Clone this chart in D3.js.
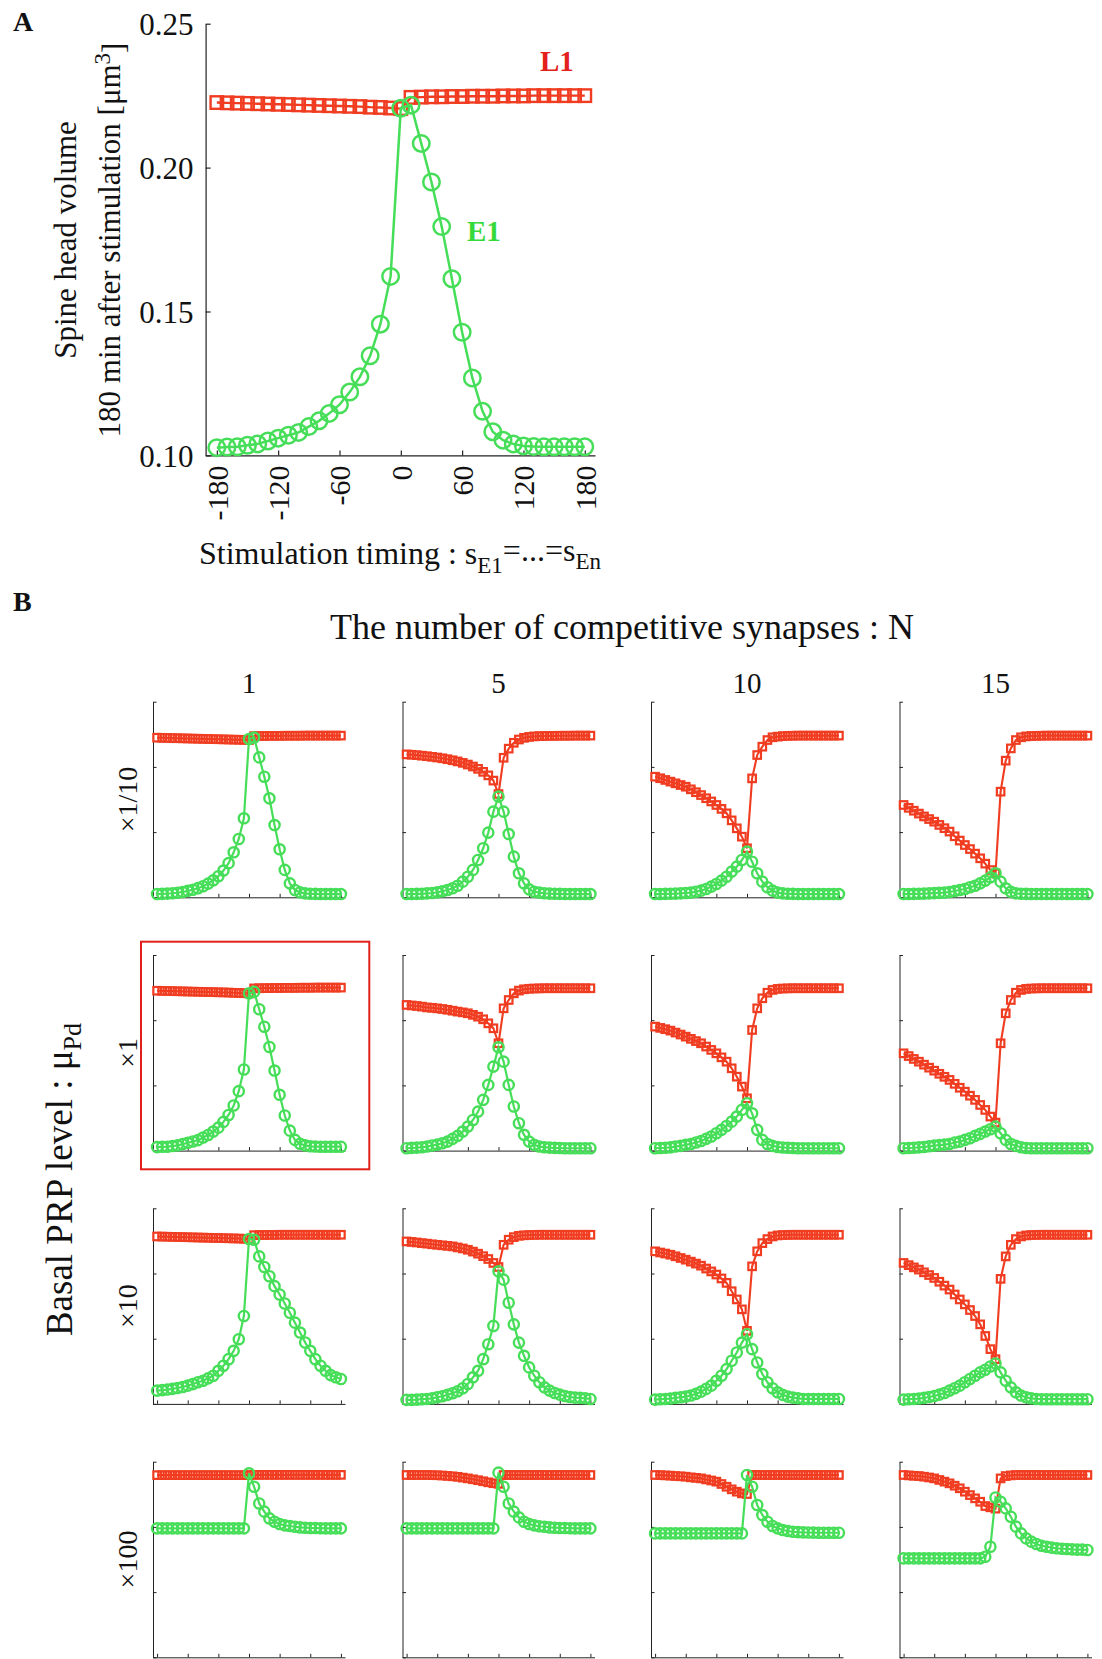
<!DOCTYPE html>
<html><head><meta charset="utf-8">
<script src="https://cdn.jsdelivr.net/npm/d3@7"></script>
<style>body{margin:0;background:#fff}svg{display:block}text{font-family:"Liberation Serif","Times New Roman",serif;fill:#111}</style>
</head><body>
<script>
const timing = [-180,-170,-160,-150,-140,-130,-120,-110,-100,-90,-80,-70,-60,-50,-40,-30,-20,-10,0,10,20,30,40,50,60,70,80,90,100,110,120,130,140,150,160,170,180];
const xTicks = [-180,-120,-60,0,60,120,180];
const yTicks = [0.10,0.15,0.20,0.25];
const nLabels = ["1","5","10","15"];
const prpLabels = ["×1/10","×1","×10","×100"];

// Panel A (N=1, x1)
const e1_A = [.1027,.1029,.1030,.1035,.1040,.1050,.1060,.1070,.1080,.1100,.1120,.1146,.1176,.1220,.1273,.1346,.1456,.1622,.2206,.2217,.2084,.1950,.1795,.1614,.1428,.1269,.1153,.1082,.1053,.1040,.1033,.1031,.1030,.1030,.1030,.1030,.1030];
const l1_A = [.2226,.2225,.2224,.2223,.2222,.2221,.2220,.2219,.2218,.2217,.2216,.2215,.2214,.2213,.2212,.2210,.2209,.2207,.2205,.2244,.2245,.2246,.2246,.2247,.2247,.2248,.2248,.2248,.2249,.2249,.2249,.2250,.2250,.2250,.2250,.2250,.2250];

// Row x1/10
const e1_r1c1 = [.1025,.1026,.1028,.1031,.1035,.1041,.1049,.1058,.1070,.1085,.1105,.1130,.1162,.1205,.1262,.1345,.1447,.1606,.2214,.2225,.2073,.1925,.1759,.1554,.1368,.1210,.1107,.1056,.1038,.1030,.1027,.1026,.1025,.1025,.1025,.1025,.1025];
const l1_r1c1 = [.2224,.2223,.2222,.2221,.2220,.2219,.2218,.2217,.2216,.2215,.2214,.2213,.2212,.2211,.2210,.2209,.2208,.2207,.2206,.2236,.2237,.2237,.2238,.2238,.2238,.2239,.2239,.2239,.2239,.2240,.2240,.2240,.2240,.2240,.2240,.2240,.2240];
const e1_r1c2 = [.1025,.1025,.1026,.1027,.1030,.1033,.1038,.1046,.1056,.1069,.1089,.1120,.1158,.1210,.1286,.1376,.1496,.1657,.1772,.1657,.1485,.1312,.1184,.1107,.1061,.1043,.1036,.1031,.1028,.1027,.1026,.1025,.1025,.1025,.1025,.1025,.1025];
const l1_r1c2 = [.2096,.2093,.2090,.2086,.2082,.2077,.2072,.2066,.2059,.2051,.2042,.2031,.2018,.2003,.1985,.1962,.1935,.1895,.1792,.2070,.2140,.2185,.2210,.2223,.2230,.2234,.2236,.2237,.2238,.2238,.2239,.2239,.2239,.2240,.2240,.2240,.2240];
const e1_r1c3 = [.1025,.1025,.1026,.1027,.1028,.1030,.1033,.1036,.1043,.1051,.1064,.1082,.1102,.1128,.1158,.1197,.1235,.1286,.1350,.1273,.1184,.1120,.1077,.1051,.1036,.1030,.1027,.1026,.1025,.1025,.1025,.1025,.1025,.1025,.1025,.1025,.1025];
const l1_r1c3 = [.1925,.1913,.1900,.1887,.1874,.1861,.1848,.1828,.1806,.1784,.1760,.1735,.1708,.1678,.1644,.1590,.1529,.1465,.1376,.1912,.2091,.2155,.2206,.2227,.2232,.2236,.2238,.2239,.2240,.2240,.2240,.2240,.2240,.2240,.2240,.2240,.2240];
const e1_r1c4 = [.1025,.1025,.1026,.1027,.1028,.1030,.1032,.1034,.1036,.1041,.1048,.1056,.1064,.1077,.1089,.1107,.1128,.1153,.1184,.1120,.1069,.1043,.1030,.1027,.1026,.1025,.1025,.1025,.1025,.1025,.1025,.1025,.1025,.1025,.1025,.1025,.1025];
const l1_r1c4 = [.1708,.1686,.1664,.1642,.1620,.1600,.1580,.1555,.1530,.1504,.1468,.1435,.1401,.1370,.1335,.1299,.1258,.1209,.1184,.1810,.2048,.2142,.2206,.2227,.2234,.2237,.2238,.2239,.2240,.2240,.2240,.2240,.2240,.2240,.2240,.2240,.2240];

// Row x1
const e1_r2c2 = [.1018,.1021,.1023,.1026,.1031,.1039,.1046,.1056,.1069,.1090,.1113,.1146,.1184,.1235,.1299,.1389,.1504,.1644,.1792,.1682,.1504,.1338,.1210,.1121,.1069,.1044,.1031,.1026,.1023,.1021,.1020,.1018,.1018,.1018,.1018,.1018,.1018];
const l1_r2c2 = [.2117,.2113,.2109,.2104,.2098,.2095,.2091,.2086,.2080,.2073,.2066,.2060,.2053,.2041,.2027,.2007,.1976,.1938,.1823,.2091,.2155,.2206,.2227,.2237,.2241,.2243,.2244,.2245,.2245,.2245,.2245,.2245,.2245,.2245,.2245,.2245,.2245];
const e1_r2c3 = [.1018,.1020,.1022,.1025,.1031,.1036,.1044,.1051,.1062,.1074,.1090,.1108,.1133,.1159,.1189,.1222,.1261,.1312,.1363,.1286,.1159,.1082,.1051,.1036,.1028,.1024,.1022,.1020,.1018,.1018,.1018,.1018,.1018,.1018,.1018,.1018,.1018];
const l1_r2c3 = [.1951,.1941,.1931,.1920,.1905,.1890,.1874,.1857,.1840,.1823,.1798,.1772,.1746,.1715,.1682,.1631,.1567,.1491,.1401,.1925,.2091,.2168,.2211,.2232,.2240,.2243,.2244,.2245,.2245,.2245,.2245,.2245,.2245,.2245,.2245,.2245,.2245];
const e1_r2c4 = [.1018,.1020,.1022,.1025,.1028,.1033,.1038,.1042,.1046,.1051,.1062,.1069,.1082,.1095,.1113,.1128,.1146,.1164,.1184,.1133,.1082,.1051,.1036,.1026,.1020,.1018,.1018,.1018,.1018,.1018,.1018,.1018,.1018,.1018,.1018,.1018,.1018];
const l1_r2c4 = [.1746,.1725,.1703,.1682,.1659,.1636,.1613,.1589,.1566,.1542,.1512,.1482,.1452,.1421,.1389,.1350,.1312,.1261,.1215,.1823,.2053,.2155,.2211,.2232,.2240,.2243,.2244,.2245,.2245,.2245,.2245,.2245,.2245,.2245,.2245,.2245,.2245];

// Row x10
const e1_r3c1 = [.1102,.1106,.1110,.1115,.1122,.1130,.1140,.1152,.1166,.1178,.1196,.1216,.1254,.1293,.1343,.1407,.1496,.1674,.2264,.2259,.2131,.2050,.1979,.1903,.1839,.1770,.1699,.1623,.1547,.1471,.1407,.1343,.1293,.1254,.1221,.1204,.1191];
const l1_r3c1 = [.2284,.2283,.2282,.2281,.2280,.2279,.2278,.2277,.2276,.2275,.2274,.2273,.2272,.2271,.2270,.2269,.2268,.2266,.2264,.2294,.2295,.2295,.2296,.2296,.2297,.2297,.2297,.2297,.2297,.2297,.2297,.2297,.2297,.2297,.2297,.2297,.2297];
const e1_r3c2 = [.1031,.1031,.1033,.1036,.1038,.1043,.1051,.1059,.1069,.1082,.1097,.1120,.1153,.1204,.1254,.1343,.1458,.1598,.2017,.1953,.1776,.1610,.1470,.1369,.1280,.1216,.1166,.1127,.1102,.1084,.1071,.1061,.1053,.1048,.1046,.1043,.1038];
const l1_r3c2 = [.2246,.2242,.2238,.2233,.2229,.2224,.2220,.2216,.2212,.2208,.2200,.2192,.2182,.2168,.2152,.2133,.2111,.2081,.2050,.2220,.2259,.2279,.2289,.2293,.2295,.2296,.2297,.2297,.2297,.2297,.2297,.2297,.2297,.2297,.2297,.2297,.2297];
const e1_r3c3 = [.1033,.1036,.1038,.1041,.1046,.1051,.1056,.1064,.1077,.1094,.1115,.1140,.1178,.1216,.1267,.1331,.1394,.1470,.1534,.1420,.1318,.1229,.1166,.1120,.1089,.1069,.1056,.1048,.1043,.1038,.1038,.1038,.1038,.1038,.1038,.1038,.1038];
const l1_r3c3 = [.2170,.2161,.2153,.2144,.2132,.2119,.2106,.2091,.2076,.2060,.2038,.2016,.1992,.1962,.1928,.1864,.1801,.1725,.1560,.2055,.2170,.2233,.2264,.2284,.2292,.2295,.2296,.2297,.2297,.2297,.2297,.2297,.2297,.2297,.2297,.2297,.2297];
const e1_r3c4 = [.1033,.1036,.1038,.1041,.1046,.1053,.1061,.1071,.1084,.1102,.1120,.1140,.1166,.1191,.1216,.1242,.1262,.1287,.1310,.1242,.1178,.1127,.1089,.1064,.1051,.1043,.1038,.1036,.1036,.1036,.1036,.1036,.1036,.1036,.1036,.1036,.1036];
const l1_r3c4 = [.2081,.2064,.2047,.2030,.2009,.1988,.1966,.1937,.1907,.1877,.1839,.1801,.1763,.1720,.1674,.1610,.1521,.1420,.1343,.1959,.2131,.2220,.2264,.2284,.2292,.2295,.2296,.2297,.2297,.2297,.2297,.2297,.2297,.2297,.2297,.2297,.2297];

// Row x100
const e1_r4c1 = [.1989,.1989,.1989,.1989,.1989,.1989,.1989,.1989,.1989,.1989,.1989,.1989,.1989,.1989,.1989,.1989,.1989,.1989,.2411,.2308,.2180,.2117,.2065,.2040,.2022,.2012,.2007,.2001,.1996,.1994,.1992,.1991,.1990,.1989,.1989,.1989,.1989];
const l1_r4c1 = [.2397,.2397,.2397,.2397,.2397,.2397,.2397,.2397,.2397,.2397,.2397,.2397,.2397,.2397,.2397,.2397,.2397,.2397,.2397,.2399,.2399,.2399,.2399,.2399,.2399,.2399,.2399,.2399,.2399,.2399,.2399,.2399,.2399,.2399,.2399,.2399,.2399];
const e1_r4c2 = [.1989,.1989,.1989,.1989,.1989,.1989,.1989,.1989,.1989,.1989,.1989,.1989,.1989,.1989,.1989,.1989,.1989,.1989,.2416,.2308,.2180,.2117,.2073,.2040,.2022,.2012,.2005,.2001,.1996,.1994,.1992,.1991,.1990,.1989,.1989,.1989,.1989];
const l1_r4c2 = [.2398,.2398,.2398,.2398,.2398,.2397,.2396,.2394,.2391,.2388,.2384,.2378,.2372,.2365,.2358,.2350,.2342,.2335,.2330,.2398,.2398,.2398,.2398,.2398,.2398,.2398,.2398,.2398,.2398,.2398,.2398,.2398,.2398,.2398,.2398,.2398,.2398];
const e1_r4c3 = [.1950,.1950,.1950,.1950,.1950,.1950,.1950,.1950,.1950,.1950,.1950,.1950,.1950,.1950,.1950,.1950,.1950,.1950,.2398,.2308,.2168,.2091,.2040,.2007,.1989,.1976,.1968,.1963,.1960,.1958,.1957,.1956,.1955,.1955,.1955,.1955,.1955];
const l1_r4c3 = [.2398,.2397,.2395,.2393,.2390,.2388,.2385,.2380,.2376,.2372,.2364,.2356,.2347,.2329,.2308,.2288,.2270,.2257,.2252,.2398,.2398,.2398,.2398,.2398,.2398,.2398,.2398,.2398,.2398,.2398,.2398,.2398,.2398,.2398,.2398,.2398,.2398];
const e1_r4c4 = [.1759,.1759,.1759,.1759,.1759,.1759,.1759,.1759,.1759,.1759,.1759,.1759,.1759,.1759,.1759,.1759,.1771,.1848,.2226,.2193,.2142,.2078,.2002,.1950,.1912,.1887,.1869,.1856,.1848,.1841,.1836,.1833,.1831,.1828,.1826,.1826,.1823];
const l1_r4c4 = [.2398,.2395,.2392,.2390,.2385,.2379,.2372,.2360,.2347,.2334,.2316,.2296,.2270,.2244,.2219,.2193,.2160,.2150,.2140,.2372,.2390,.2395,.2398,.2398,.2398,.2398,.2398,.2398,.2398,.2398,.2398,.2398,.2398,.2398,.2398,.2398,.2398];

const e1Grid = [[e1_r1c1,e1_r1c2,e1_r1c3,e1_r1c4],[e1_A,e1_r2c2,e1_r2c3,e1_r2c4],[e1_r3c1,e1_r3c2,e1_r3c3,e1_r3c4],[e1_r4c1,e1_r4c2,e1_r4c3,e1_r4c4]];
const l1Grid = [[l1_r1c1,l1_r1c2,l1_r1c3,l1_r1c4],[l1_A,l1_r2c2,l1_r2c3,l1_r2c4],[l1_r3c1,l1_r3c2,l1_r3c3,l1_r3c4],[l1_r4c1,l1_r4c2,l1_r4c3,l1_r4c4]];

const RED = "#f03c20", GREEN = "#46de58", AXIS = "#222";
const W = 1102, H = 1659;
const svg = d3.select("body").append("svg").attr("width", W).attr("height", H);
svg.append("rect").attr("width", W).attr("height", H).attr("fill", "#fff");

function drawSeries(g, x, y, vals, kind, color, size, sw, lw) {
  const pts = timing.map((t, i) => ({t, v: vals[i]}));
  g.append("path").datum(pts).attr("fill", "none").attr("stroke", color).attr("stroke-width", lw)
    .attr("d", d3.line().x(d => x(d.t)).y(d => y(d.v)));
  if (kind === "square") {
    g.selectAll(null).data(pts).enter().append("rect")
      .attr("x", d => x(d.t) - size / 2).attr("y", d => y(d.v) - size / 2)
      .attr("width", size).attr("height", size)
      .attr("fill", "none").attr("stroke", color).attr("stroke-width", sw);
  } else {
    g.selectAll(null).data(pts).enter().append("circle")
      .attr("cx", d => x(d.t)).attr("cy", d => y(d.v)).attr("r", size / 2)
      .attr("fill", "none").attr("stroke", color).attr("stroke-width", sw);
  }
}

function styleAxis(sel, w) {
  sel.selectAll("path.domain").attr("stroke", AXIS).attr("stroke-width", w);
  sel.selectAll(".tick line").attr("stroke", AXIS).attr("stroke-width", w);
}

// ---------- Panel A ----------
{
  const x = d3.scaleLinear([-191, 190], [205.6, 595]);
  const y = d3.scaleLinear([0.10, 0.25], [455.4, 23.7]);
  const g = svg.append("g");
  const ax = g.append("g").attr("transform", `translate(0,${y(0.10)})`)
    .call(d3.axisBottom(x).tickValues(xTicks).tickSizeInner(-5).tickSizeOuter(0).tickFormat(d => String(d)));
  ax.selectAll(".tick text").attr("transform", "rotate(-90)").attr("x", -10).attr("y", 0).attr("dy", "0.35em")
    .style("text-anchor", "end").style("font-size", "30px").style("font-family", "Liberation Serif").attr("fill", "#111");
  styleAxis(ax, 1.2);
  const ay = g.append("g").attr("transform", `translate(${x(-191)},0)`)
    .call(d3.axisLeft(y).tickValues(yTicks).tickSizeInner(-5).tickSizeOuter(0).tickPadding(12).tickFormat(d3.format(".2f")));
  ay.selectAll(".tick text").style("font-size", "31px").style("font-family", "Liberation Serif").attr("fill", "#111").attr("dy", "0.35em");
  styleAxis(ay, 1.2);
  drawSeries(g, x, y, l1_A, "square", RED, 12.5, 2.4, 2.4);
  drawSeries(g, x, y, e1_A, "circle", GREEN, 16.5, 2.5, 2.5);

  svg.append("text").attr("x", 13).attr("y", 31).style("font-size", "28px").style("font-weight", "bold").text("A");
  svg.append("text").attr("transform", "translate(76,240) rotate(-90)").attr("text-anchor", "middle")
    .style("font-size", "31px").text("Spine head volume");
  const t2 = svg.append("text").attr("transform", "translate(120,240) rotate(-90)").attr("text-anchor", "middle")
    .style("font-size", "31px");
  t2.append("tspan").text("180 min after stimulation [μm");
  t2.append("tspan").attr("dy", "-0.45em").style("font-size", "23px").text("3");
  t2.append("tspan").attr("dy", "0.45em").text("]");
  const tx = svg.append("text").attr("x", 400).attr("y", 564).attr("text-anchor", "middle").style("font-size", "32px");
  tx.append("tspan").text("Stimulation timing : s");
  tx.append("tspan").attr("dy", "0.38em").style("font-size", "23px").text("E1");
  tx.append("tspan").attr("dy", "-0.38em").text("=...=s");
  tx.append("tspan").attr("dy", "0.38em").style("font-size", "23px").text("En");
  svg.append("text").attr("x", 540).attr("y", 71).style("font-size", "29px").style("font-weight", "bold").style("fill", "#e3201b").text("L1");
  svg.append("text").attr("x", 467).attr("y", 241).style("font-size", "29px").style("font-weight", "bold").style("fill", "#36d93a").text("E1");
}

// ---------- Panel B ----------
const colX = [153, 402.5, 651, 899.5];
const rowY = [701.7, 955, 1208.3, 1461.7];
const cw = 192, rh = 195.6;

svg.append("text").attr("x", 13).attr("y", 611).style("font-size", "28px").style("font-weight", "bold").text("B");
svg.append("text").attr("x", 622).attr("y", 639).attr("text-anchor", "middle").style("font-size", "36px")
  .text("The number of competitive synapses : N");
nLabels.forEach((s, c) => {
  svg.append("text").attr("x", colX[c] + cw / 2).attr("y", 693).attr("text-anchor", "middle").style("font-size", "29px").text(s);
});
const rl = svg.append("text").attr("transform", `translate(72,${(rowY[0] + rowY[3] + rh) / 2}) rotate(-90)`)
  .attr("text-anchor", "middle").style("font-size", "37px");
rl.append("tspan").text("Basal PRP level : μ");
rl.append("tspan").attr("dy", "0.35em").style("font-size", "26px").text("Pd");
prpLabels.forEach((s, r) => {
  svg.append("text").attr("transform", `translate(137,${rowY[r] + rh / 2}) rotate(-90)`)
    .attr("text-anchor", "middle").style("font-size", "28px").text(s);
});

// highlight box around (N=1, x1)
svg.append("rect").attr("x", 141).attr("y", 941.7).attr("width", 228.3).attr("height", 227.6)
  .attr("fill", "none").attr("stroke", "#e0201b").attr("stroke-width", 2);

for (let r = 0; r < 4; r++) {
  for (let c = 0; c < 4; c++) {
    const x = d3.scaleLinear([-188, 188], [colX[c], colX[c] + cw]);
    const y = d3.scaleLinear([0.10, 0.25], [rowY[r] + rh, rowY[r]]);
    const g = svg.append("g");
    const ax = g.append("g").attr("transform", `translate(0,${y(0.10)})`)
      .call(d3.axisBottom(x).tickValues(xTicks).tickSizeInner(-3.5).tickSizeOuter(0).tickFormat(""));
    styleAxis(ax, 1);
    const ay = g.append("g").attr("transform", `translate(${colX[c]},0)`)
      .call(d3.axisLeft(y).tickValues(yTicks).tickSizeInner(-3.5).tickSizeOuter(0).tickFormat(""));
    styleAxis(ay, 1);
    drawSeries(g, x, y, l1Grid[r][c], "square", RED, 7.5, 2.2, 2.1);
    drawSeries(g, x, y, e1Grid[r][c], "circle", GREEN, 10.2, 2.4, 2.2);
  }
}
</script>
</body></html>
